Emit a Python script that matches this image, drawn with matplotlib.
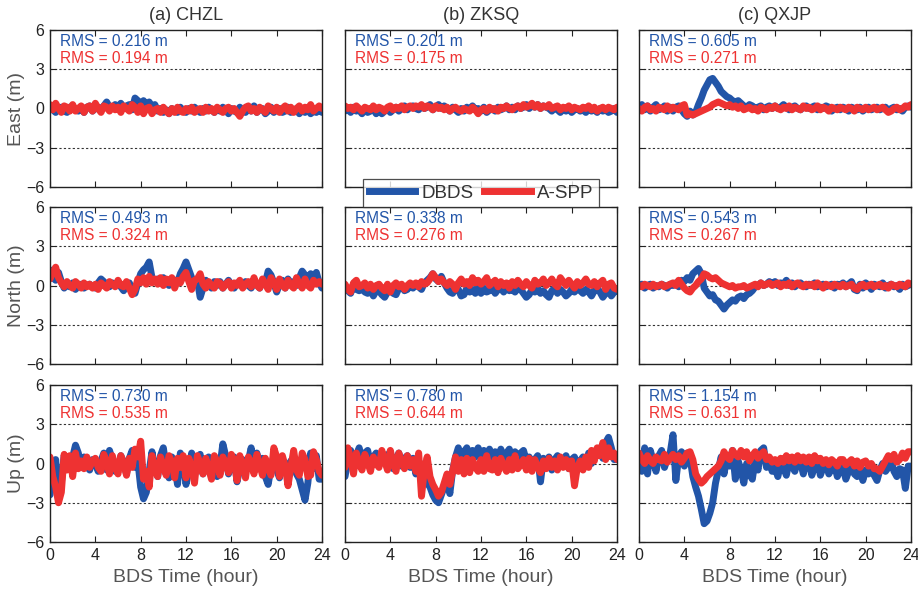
import numpy as np
import matplotlib
matplotlib.use("Agg")
import matplotlib.pyplot as plt
from matplotlib.lines import Line2D

plt.rcParams["font.family"] = ["Liberation Sans", "DejaVu Sans"]

STATIONS = ["(a) CHZL", "(b) ZKSQ", "(c) QXJP"]
COMPONENTS = ["East (m)", "North (m)", "Up (m)"]
SERIES_NAMES = ["DBDS", "A-SPP"]

# positioning errors (m), one value every 15 min from 0 h to 24 h
# each row below covers 3 hours
dbds_e_chzl = [0.2, -0.1, -0.3, 0.0, 0.1, -0.2, -0.3, 0.1, 0.2, -0.1, -0.2, 0.0,
               -0.3, 0.1, 0.2, -0.2, 0.0, 0.1, -0.1, 0.2, 0.5, 0.1, 0.0, 0.3,
               0.1, 0.4, 0.0, 0.2, 0.3, -0.1, 0.8, 0.6, 0.3, 0.6, 0.2, 0.5,
               0.1, 0.3, -0.2, 0.0, -0.3, -0.1, -0.4, 0.0, -0.2, -0.3, 0.1, -0.2,
               -0.3, 0.0, -0.2, 0.1, -0.1, -0.3, 0.0, -0.2, 0.1, -0.1, -0.3, 0.0,
               -0.2, 0.1, -0.1, -0.4, 0.0, -0.2, -0.3, 0.1, -0.1, -0.3, 0.0, -0.2,
               0.2, -0.3, -0.1, 0.0, -0.4, -0.2, 0.1, -0.3, -0.1, 0.0, -0.3, -0.2,
               0.1, -0.3, -0.2, 0.0, -0.4, -0.1, -0.3, 0.1, -0.4, -0.2, -0.3, -0.1,
               -0.3]
aspp_e_chzl = [0.3, -0.1, 0.4, 0.0, -0.3, 0.2, 0.1, -0.2, 0.3, -0.2, 0.0, 0.2,
               -0.3, 0.1, 0.2, -0.2, 0.4, 0.0, -0.3, 0.2, 0.1, -0.2, 0.2, -0.1,
               0.1, -0.3, 0.2, 0.0, -0.2, 0.3, 0.1, -0.3, 0.2, -0.4, 0.0, 0.1,
               -0.4, -0.1, 0.0, -0.3, 0.1, -0.2, -0.4, 0.0, -0.3, 0.1, -0.2, -0.3,
               0.0, -0.2, 0.1, -0.3, -0.1, 0.0, -0.3, 0.1, -0.2, 0.0, -0.3, 0.1,
               -0.1, -0.3, 0.0, 0.1, -0.2, 0.0, -0.3, -0.6, -0.2, 0.1, 0.2, -0.2,
               0.0, -0.3, 0.1, -0.1, -0.3, 0.2, 0.0, -0.2, 0.1, -0.3, 0.0, 0.2,
               -0.2, 0.1, -0.3, 0.0, 0.2, -0.2, 0.1, -0.1, 0.3, -0.2, 0.0, 0.2,
               0.0]
dbds_e_zksq = [-0.2, 0.0, -0.3, 0.1, -0.2, -0.1, -0.4, 0.0, -0.3, -0.2, 0.0, -0.4,
               -0.1, -0.4, -0.2, 0.0, -0.3, -0.1, 0.1, -0.2, 0.0, 0.2, -0.1, 0.1,
               0.2, 0.0, -0.1, 0.2, 0.0, 0.1, 0.3, -0.1, 0.1, 0.3, 0.0, 0.2,
               0.0, -0.2, 0.1, -0.1, -0.3, 0.0, -0.2, 0.1, -0.1, 0.2, -0.1, 0.0,
               -0.2, 0.1, -0.3, -0.1, 0.0, -0.2, 0.1, -0.1, 0.0, 0.2, -0.1, 0.1,
               -0.1, 0.2, 0.0, 0.1, 0.3, 0.0, 0.2, 0.1, 0.3, 0.0, 0.2, 0.1,
               0.0, -0.2, 0.1, -0.1, -0.3, 0.0, -0.2, 0.1, -0.3, -0.1, 0.0, -0.2,
               -0.1, -0.3, 0.0, -0.2, -0.1, -0.3, 0.0, -0.2, -0.1, -0.3, -0.2, 0.0,
               -0.3]
aspp_e_zksq = [0.2, 0.0, 0.1, -0.1, 0.2, 0.0, -0.2, 0.1, 0.0, -0.1, 0.2, -0.1,
               0.1, 0.0, -0.2, 0.1, 0.2, -0.1, 0.1, 0.0, 0.2, -0.1, 0.1, 0.2,
               0.0, 0.2, 0.1, 0.3, 0.0, 0.2, 0.1, -0.1, 0.2, 0.0, 0.1, -0.1,
               0.1, -0.2, 0.0, 0.1, -0.1, -0.2, 0.0, -0.1, -0.2, 0.1, -0.1, -0.4,
               -0.1, 0.0, -0.2, 0.1, -0.1, 0.0, -0.2, 0.1, 0.0, 0.2, 0.0, -0.1,
               0.1, 0.2, 0.0, 0.3, 0.1, 0.2, 0.4, 0.1, 0.3, 0.0, 0.2, 0.1,
               0.3, 0.0, 0.1, 0.2, -0.1, 0.1, 0.0, 0.2, -0.1, 0.1, 0.0, -0.1,
               0.1, 0.0, 0.2, -0.1, 0.1, -0.2, 0.0, 0.1, -0.1, 0.1, 0.0, -0.1,
               0.1]
dbds_e_qxjp = [0.1, 0.3, -0.1, 0.2, -0.2, 0.1, 0.3, -0.1, 0.0, 0.2, -0.2, 0.1,
               -0.2, 0.1, 0.2, -0.1, -0.4, -0.6, -0.2, -0.5, -0.3, 0.3, 0.8, 1.4,
               1.8, 2.2, 2.3, 2.0, 1.7, 1.3, 1.1, 0.9, 0.8, 0.6, 0.5, 0.6,
               0.4, 0.2, 0.1, 0.3, 0.2, 0.0, 0.1, 0.2, -0.1, 0.1, 0.2, 0.0,
               0.2, 0.0, 0.1, 0.3, 0.1, -0.1, 0.1, 0.2, 0.0, -0.1, 0.1, 0.2,
               0.0, 0.1, 0.2, -0.1, 0.1, 0.0, 0.2, 0.1, -0.2, 0.0, 0.1, -0.1,
               0.1, 0.0, -0.2, 0.1, 0.0, -0.1, 0.1, -0.2, 0.0, 0.1, -0.1, 0.0,
               0.1, -0.1, 0.0, 0.1, -0.2, 0.0, 0.1, -0.1, 0.0, -0.2, 0.1, 0.2,
               0.1]
aspp_e_qxjp = [0.0, -0.2, 0.1, 0.2, -0.1, 0.0, -0.2, 0.1, 0.0, -0.1, 0.2, -0.1,
               0.1, 0.0, -0.1, 0.2, 0.3, -0.5, -0.4, -0.5, -0.4, -0.3, -0.2, -0.1,
               0.0, 0.1, 0.3, 0.4, 0.5, 0.4, 0.3, 0.2, 0.3, 0.1, 0.2, 0.0,
               0.2, -0.1, 0.0, 0.1, -0.1, 0.0, -0.2, 0.1, 0.0, -0.1, 0.1, 0.0,
               0.2, 0.0, -0.1, 0.1, 0.0, 0.2, -0.1, 0.1, 0.0, -0.1, 0.2, 0.0,
               0.1, -0.1, 0.0, 0.2, -0.1, 0.1, 0.0, -0.2, 0.1, 0.0, -0.1, 0.1,
               0.0, -0.1, 0.1, 0.0, -0.2, 0.1, 0.0, -0.1, 0.1, -0.1, 0.0, 0.1,
               -0.1, 0.0, 0.1, -0.1, -0.3, -0.2, 0.0, 0.1, -0.1, 0.0, 0.2, 0.1,
               0.3]

dbds_n_chzl = [1.2, 0.6, 0.4, 1.0, 0.3, -0.2, 0.1, -0.1, 0.2, -0.3, 0.0, 0.1,
               -0.2, 0.0, 0.1, -0.1, -0.2, 0.2, 0.5, 0.3, 0.0, -0.1, 0.2, 0.0,
               0.3, -0.1, -0.4, 0.1, 0.2, -0.3, -0.6, 0.2, 0.9, 1.2, 1.4, 1.8,
               0.6, 0.3, 0.5, 0.2, 0.6, 0.3, 0.0, 0.5, 0.4, 0.2, 0.9, 1.3,
               1.8, 1.2, 0.6, 0.2, 0.4, -0.9, -0.2, 0.4, 0.1, -0.2, 0.3, 0.0,
               0.3, -0.2, 0.1, 0.4, 0.0, -0.2, 0.2, 0.1, -0.1, 0.3, 0.0, -0.2,
               0.3, 0.1, -0.2, 0.4, 0.2, 1.1, 0.8, 0.2, -0.5, 0.1, 0.4, -0.2,
               0.5, 0.1, 0.3, 0.0, 0.6, 1.1, 0.8, 0.3, 0.9, 0.6, 1.0, 0.2,
               -0.2]
aspp_n_chzl = [0.5, 1.0, 1.4, 0.6, 0.2, -0.1, 0.3, 0.0, -0.2, 0.3, 0.1, -0.2,
               0.2, -0.1, 0.1, -0.2, 0.1, -0.3, 0.2, 0.0, -0.2, 0.3, 0.1, -0.1,
               0.4, 0.0, -0.1, 0.3, -0.2, -0.7, -0.3, 0.5, 0.2, 0.6, 0.1, 0.7,
               0.2, 0.5, 0.1, 0.6, 0.0, 0.5, 0.2, 0.6, -0.2, 0.4, 0.2, 0.7,
               1.0, 0.3, -0.3, 0.4, 0.5, 0.9, 0.1, -0.2, 0.3, 0.0, -0.2, 0.3,
               0.2, -0.2, 0.1, 0.3, -0.2, 0.2, 0.0, 0.4, -0.2, 0.1, 0.3, -0.1,
               0.6, 0.0, -0.2, 0.5, 0.1, -0.3, 0.6, 0.2, -0.3, 0.5, 0.0, -0.2,
               0.4, 0.0, -0.2, 0.6, 0.1, -0.2, 0.5, 0.0, -0.2, 0.4, 0.1, 0.3,
               0.1]
dbds_n_zksq = [-0.1, -0.4, -0.6, 0.1, -0.3, -0.4, -0.2, -0.5, -0.6, -0.3, -0.8, -0.4,
               -0.4, -0.7, -0.9, -0.5, -0.3, -0.6, -0.7, -0.2, 0.0, -0.4, -0.3, 0.1,
               -0.2, 0.1, -0.1, -0.3, 0.2, 0.4, 0.6, 0.9, 0.5, 0.3, 0.7, 0.2,
               -0.2, -0.5, -0.6, 0.0, -0.3, -0.8, -0.7, -0.2, -0.5, -0.3, -0.6, -0.1,
               -0.6, -0.2, -0.5, -0.4, -0.1, -0.6, -0.3, -0.2, -0.5, -0.1, -0.4, -0.3,
               -0.5, -0.2, -0.3, -0.6, -0.9, -0.7, -0.3, -0.5, -0.2, -0.6, -0.4, -0.7,
               -0.9, -0.4, -0.2, -0.6, -0.3, -0.5, -0.8, -0.6, -0.3, -0.5, -0.2, -0.4,
               -0.6, -0.3, -0.5, -0.8, -0.4, -0.2, -0.5, -0.9, -0.6, -0.3, -0.8, -0.5,
               -0.4]
aspp_n_zksq = [0.1, -0.3, -0.5, 0.2, 0.4, -0.1, 0.0, 0.2, -0.2, 0.1, -0.3, 0.0,
               0.1, -0.2, -0.4, 0.1, -0.5, 0.0, 0.2, -0.1, 0.1, -0.3, 0.0, 0.2,
               0.0, 0.2, -0.1, 0.3, 0.1, 0.2, 0.5, 0.9, 0.6, 0.3, 0.5, 0.2,
               0.0, 0.3, 0.1, -0.3, 0.2, 0.5, 0.1, 0.3, 0.0, 0.6, 0.2, 0.4,
               0.1, 0.3, 0.6, 0.0, 0.2, 0.4, -0.1, 0.3, 0.0, 0.2, -0.2, 0.3,
               0.0, 0.4, 0.1, -0.1, 0.3, 0.0, -0.2, 0.4, 0.1, 0.2, 0.5, 0.0,
               0.2, 0.5, 0.1, -0.1, 0.6, 0.3, 0.0, 0.4, 0.1, -0.2, 0.3, 0.0,
               0.2, 0.5, 0.1, 0.0, 0.3, -0.1, 0.2, 0.4, -0.3, 0.1, 0.2, -0.2,
               -0.3]
dbds_n_qxjp = [-0.1, 0.1, -0.2, 0.0, 0.1, -0.2, 0.0, -0.1, 0.1, 0.0, -0.2, 0.1,
               0.0, 0.2, -0.1, 0.4, 0.3, 0.6, 0.4, 0.9, 1.1, 1.3, 0.9, -0.2,
               -0.5, -0.8, -0.7, -1.1, -1.2, -1.5, -1.8, -1.5, -1.3, -1.1, -1.2, -0.9,
               -0.8, -1.0, -0.7, -0.6, -0.4, -0.1, 0.0, 0.2, 0.0, 0.1, 0.3, 0.1,
               0.3, 0.0, 0.2, 0.1, 0.4, 0.0, 0.2, -0.1, 0.1, 0.2, 0.0, -0.1,
               0.1, 0.0, 0.2, -0.1, 0.0, 0.1, -0.1, 0.0, 0.1, -0.2, 0.1, 0.0,
               0.2, -0.1, 0.1, 0.3, -0.3, -0.4, 0.1, -0.2, 0.2, 0.0, -0.3, 0.1,
               0.0, -0.1, 0.2, -0.2, 0.0, 0.1, -0.1, 0.0, -0.3, 0.1, -0.1, 0.0,
               0.1]
aspp_n_qxjp = [0.0, -0.1, 0.1, 0.0, -0.1, 0.1, -0.1, 0.0, 0.1, -0.1, 0.0, 0.1,
               0.2, 0.0, 0.4, 0.1, -0.2, -0.4, -0.5, -0.2, 0.0, 0.3, 0.5, 0.9,
               0.8, 0.6, 0.5, 0.6, 0.4, 0.2, 0.1, 0.0, -0.1, 0.0, -0.2, -0.1,
               -0.1, 0.0, -0.2, -0.1, 0.0, 0.1, -0.1, 0.2, 0.0, 0.1, 0.2, 0.0,
               0.1, 0.2, -0.1, 0.1, 0.0, 0.2, -0.1, 0.1, 0.2, 0.0, -0.1, 0.1,
               0.0, 0.1, -0.1, 0.2, 0.0, -0.2, 0.1, 0.0, -0.1, 0.1, 0.0, -0.1,
               0.1, -0.1, 0.0, 0.1, -0.2, -0.3, 0.0, 0.1, -0.1, 0.0, 0.1, -0.1,
               0.0, 0.1, -0.1, 0.0, -0.2, 0.1, 0.0, -0.1, 0.1, 0.0, -0.1, 0.2,
               0.1]

dbds_u_chzl = [-2.4, -1.0, 0.3, -2.6, -1.5, 0.6, 0.2, -0.4, 0.5, 1.4, 0.8, -0.3,
               0.5, -0.2, -0.5, 0.3, 0.0, -0.6, 0.2, 0.8, -0.5, 1.0, 0.3, -0.6,
               -0.5, 0.6, 0.1, -0.8, 0.4, 1.0, -0.3, 0.2, -1.8, -2.7, -2.2, -0.6,
               0.9, -0.4, -1.0, 0.6, 1.2, -0.3, -1.1, 0.5, -0.2, -1.6, 0.8, 0.0,
               -1.6, -0.5, 0.8, -0.9, 0.1, 0.7, -0.8, 0.3, 0.5, -0.7, 0.4, -1.0,
               -0.2, 1.5, 0.6, -0.8, 0.1, 0.5, -1.4, -0.4, 0.3, -0.7, 0.2, 1.2,
               -0.6, 0.8, -0.2, 0.4, -1.0, -1.6, -0.3, 0.6, -0.5, -1.1, 0.3, 0.0,
               -1.2, 0.2, 0.3, -0.8, -1.2, -2.0, -2.8, -1.5, 0.8, -0.4, 0.6, -1.2,
               -1.2]
aspp_u_chzl = [0.5, -1.0, -1.8, -3.0, -2.2, 0.7, -0.5, 0.6, -1.0, 0.8, -0.4, 0.2,
               -0.4, 0.5, -0.3, 0.2, 0.4, -0.3, -0.6, 0.7, 0.1, -0.8, 0.6, -0.2,
               -0.8, 0.6, 0.0, -0.9, 0.4, -0.3, 1.1, 0.5, 1.7, -1.2, -0.6, -1.8,
               0.6, -0.5, -1.0, 0.5, -0.2, -0.9, 0.6, 0.1, -1.1, 0.4, -0.3, 0.6,
               -1.1, 0.4, -0.3, -1.5, 0.6, 0.0, -0.8, 0.4, -0.4, -1.2, 0.6, 0.1,
               -0.9, 0.5, 0.0, -0.7, 0.7, 0.2, -1.3, 0.6, -0.2, -1.1, 0.5, 0.1,
               -0.8, 0.7, -0.1, -0.9, 0.4, -0.3, -0.9, 1.2, 0.5, -1.0, 0.6, -0.2,
               -1.7, -0.3, 1.0, -0.5, -0.9, 0.8, 0.3, -1.0, -0.9, 0.9, 0.3, -0.6,
               -0.9]
dbds_u_zksq = [-1.0, 0.2, 1.0, 0.0, 0.6, 1.2, 0.3, 0.8, 1.0, 0.0, 0.5, 0.8,
               0.0, 0.8, 0.2, 0.6, 0.9, -0.4, 0.3, 0.8, -0.2, 0.4, 0.6, -0.3,
               0.4, -0.8, 0.2, -0.3, -0.5, -1.5, -1.8, -2.4, -2.8, -3.0, -2.4, -1.8,
               -1.0, -2.3, -0.5, 0.5, 1.2, 0.4, 0.9, 1.2, 0.3, 1.0, 0.5, 1.2,
               0.4, 1.0, 0.3, 1.1, 0.5, 0.9, 0.3, 1.1, 0.4, 0.8, 1.1, 0.3,
               0.9, 0.4, 0.8, 1.0, 0.2, 0.5, -0.2, 0.3, 0.6, -1.4, 0.4, -0.3,
               0.5, -0.5, 0.3, 0.6, -0.2, 0.2, 0.6, -0.4, 0.3, 0.5, -0.3, 0.2,
               0.5, -0.2, 0.8, 0.0, 0.4, 0.9, 1.2, 0.4, 1.6, 2.0, 1.2, 0.3,
               0.3]
aspp_u_zksq = [-0.3, 1.2, 0.4, -0.8, 0.8, 0.0, -0.5, 0.7, 0.1, -0.6, 0.5, 0.0,
               -0.3, 1.0, 0.2, -0.5, 1.0, 0.0, -0.6, 0.8, 0.1, -0.4, 0.6, -0.2,
               0.3, -0.6, 0.8, -2.5, -0.5, 0.5, -1.0, -1.6, -2.0, -2.5, -2.2, -1.5,
               -0.8, -1.6, -0.6, 0.5, -0.6, 0.3, -0.8, 0.4, -0.7, 0.3, -0.3, -0.6,
               0.3, -0.6, 0.6, -0.4, -0.5, 0.3, -0.7, 0.4, -0.2, -0.6, 0.3, -0.5,
               0.6, -0.4, -0.1, 0.3, -0.5, 0.4, -0.6, 0.3, -0.3, -0.7, 0.2, -0.4,
               0.4, -0.3, 0.2, -0.5, 0.5, -0.3, 0.3, -0.4, 0.2, -1.7, -0.3, 0.2,
               -0.5, 0.5, -0.3, 1.0, 0.2, 1.2, 0.6, 1.6, 0.3, 1.2, 0.5, 0.8,
               0.3]
dbds_u_qxjp = [0.5, -0.6, 1.2, -0.8, 1.0, 0.2, -0.6, 0.6, 1.0, -0.3, 0.4, 0.8,
               2.2, -1.3, 0.5, 0.9, -0.2, 0.8, 0.5, -1.0, -1.8, -2.5, -3.5, -4.6,
               -4.4, -3.8, -3.0, -1.5, -0.5, 0.5, -0.8, 0.4, -0.2, 1.0, -1.2, 0.2,
               -0.5, -1.5, 0.0, -0.8, -1.2, 0.3, -0.5, 1.0, 1.2, -0.3, 0.2, -0.6,
               -0.3, -1.0, 0.0, -0.3, -0.9, 0.2, -0.2, -0.6, 0.3, 0.1, -0.8, 0.4,
               0.0, -0.9, -0.2, 0.3, -0.9, -0.3, 0.0, -0.8, -0.4, -0.1, -1.0, -0.5,
               -0.3, -1.2, -0.6, -0.2, -0.8, -1.0, -0.4, -1.3, -0.5, -0.8, -0.2, -0.9,
               -1.3, -0.5, 0.0, -0.6, -0.3, 0.2, -0.6, -1.0, -0.4, -0.5, -1.9, -0.2,
               -0.2]
aspp_u_qxjp = [0.8, 0.3, 0.0, 0.6, 0.2, 0.0, 0.5, 0.3, 0.2, 0.7, 0.1, 0.4,
               0.7, 0.3, 0.6, 0.1, 0.4, 0.8, 0.9, 0.3, -0.8, -1.2, -1.5, -1.3,
               -1.0, -0.8, -0.6, -0.4, -0.2, 0.2, 0.9, 0.5, 0.3, 1.0, 0.7, 0.5,
               1.0, 0.5, 0.9, 0.2, 0.6, 0.9, 0.4, 0.7, 0.9, 0.3, 0.5, 0.1,
               0.3, 0.0, 0.4, 0.1, 0.6, 0.2, 0.5, 0.1, 0.6, 0.2, 0.5, 0.1,
               0.5, 0.0, 0.6, 0.2, 0.4, 0.0, 0.3, -0.1, 0.3, 0.1, -0.2, 0.3,
               0.3, -0.1, 0.1, 0.3, -0.2, 0.2, -0.3, 0.1, 0.2, -0.2, 0.0, -0.4,
               -0.4, -0.6, -0.2, 0.2, 0.6, 0.3, 0.7, 0.1, 0.3, 0.8, 0.4, 0.9,
               0.9]

DBDS = [[dbds_e_chzl, dbds_e_zksq, dbds_e_qxjp],
        [dbds_n_chzl, dbds_n_zksq, dbds_n_qxjp],
        [dbds_u_chzl, dbds_u_zksq, dbds_u_qxjp]]
ASPP = [[aspp_e_chzl, aspp_e_zksq, aspp_e_qxjp],
        [aspp_n_chzl, aspp_n_zksq, aspp_n_qxjp],
        [aspp_u_chzl, aspp_u_zksq, aspp_u_qxjp]]

RMS_DBDS = [[0.216, 0.201, 0.605],
            [0.493, 0.338, 0.543],
            [0.730, 0.780, 1.154]]
RMS_ASPP = [[0.194, 0.175, 0.271],
            [0.324, 0.276, 0.267],
            [0.535, 0.644, 0.631]]

BLUE = "#2255a8"
RED = "#ee3232"
TXT = "#333333"

fig = plt.figure(figsize=(9.18, 5.95), dpi=100)

W, H = 918.0, 595.0
col_left = [50, 345, 639]
row_top = [30, 207, 385]
aw, ah = 272, 157

for r in range(3):
    for c in range(3):
        ax = fig.add_axes([col_left[c] / W, 1 - (row_top[r] + ah) / H, aw / W, ah / H])
        for lev in (-3, 0, 3):
            ax.axhline(lev, color="#333333", ls=(0, (2, 2)), lw=0.8, zorder=1)
        d = DBDS[r][c]
        a = ASPP[r][c]
        ax.plot(np.linspace(0, 24, len(d)), d, color=BLUE, lw=5.0,
                solid_joinstyle="round", solid_capstyle="round", zorder=2)
        ax.plot(np.linspace(0, 24, len(a)), a, color=RED, lw=5.0,
                solid_joinstyle="round", solid_capstyle="round", zorder=3)

        ax.set_xlim(0, 24)
        ax.set_ylim(-6, 6)
        ax.set_xticks(range(0, 25, 4))
        ax.set_yticks([-6, -3, 0, 3, 6])
        ax.tick_params(direction="in", top=True, right=True, length=4, width=0.8,
                       labelsize=11.5, colors="#222222", pad=4)
        for s in ax.spines.values():
            s.set_linewidth(1.0)
            s.set_color("#222222")
            s.set_zorder(4)
        if r < 2:
            ax.set_xticklabels([])
        else:
            ax.set_xlabel("BDS Time (hour)", fontsize=14, color="#555555", labelpad=5)
        if c > 0:
            ax.set_yticklabels([])
        else:
            ax.set_ylabel(COMPONENTS[r], fontsize=14, color="#555555", labelpad=1)
        if r == 0:
            ax.set_title(STATIONS[c], fontsize=13, color=TXT, pad=7)

        ax.text(0.035, 0.925, f"RMS = {RMS_DBDS[r][c]:.3f} m", transform=ax.transAxes,
                color=BLUE, fontsize=11.2, va="center", ha="left", zorder=5)
        ax.text(0.035, 0.82, f"RMS = {RMS_ASPP[r][c]:.3f} m", transform=ax.transAxes,
                color=RED, fontsize=11.2, va="center", ha="left", zorder=5)

handles = [Line2D([], [], color=BLUE, lw=5), Line2D([], [], color=RED, lw=5)]
leg = fig.legend(handles, SERIES_NAMES, loc="center", bbox_to_anchor=(481 / W, 1 - 193 / H),
                 ncol=2, fontsize=13.5, frameon=True, fancybox=False, handlelength=2.5,
                 handletextpad=0.3, columnspacing=0.6, borderpad=0.3, borderaxespad=0)
leg.get_frame().set_edgecolor("#222222")
leg.get_frame().set_linewidth(0.9)
for t in leg.get_texts():
    t.set_color(TXT)
leg.set_zorder(10)

fig.savefig("out.png", dpi=100)
